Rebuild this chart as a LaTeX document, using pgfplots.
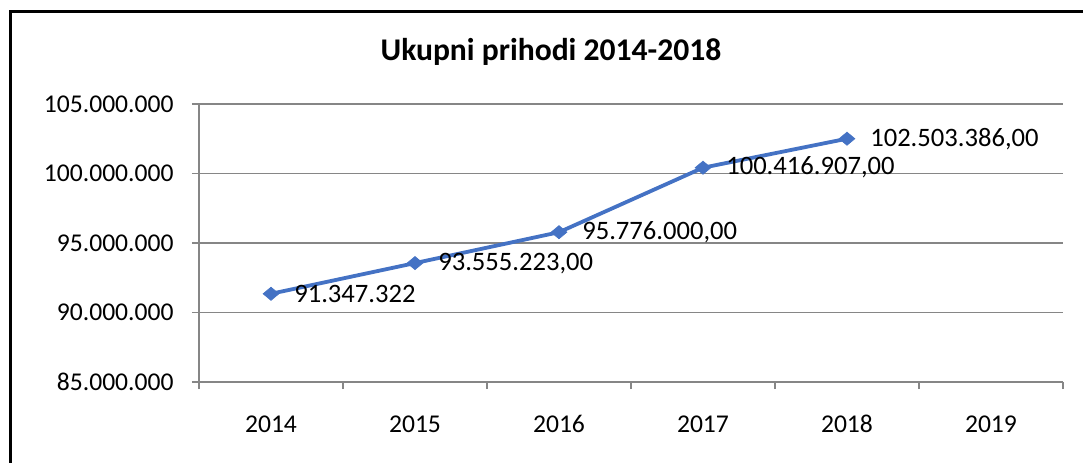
\documentclass[border=0pt]{standalone}
\usepackage{pgfplots}
\usepackage{pgfplotstable}
\pgfplotsset{compat=1.18}
\usepackage{fontspec}
\setmainfont{Carlito}
\definecolor{serie}{RGB}{68,114,196}
\definecolor{gridc}{RGB}{134,134,134}
\pgfplotstableread{
x y label
0 91347322 91.347.322
1 93555223 93.555.223,00
2 95776000 95.776.000,00
3 100416907 100.416.907,00
4 102503386 102.503.386,00
}\data
\begin{document}
\begin{tikzpicture}
\useasboundingbox (0,0) rectangle (541.5pt,231pt);
\draw[line width=1.4pt] (5.3pt,-20pt) rectangle (600pt,225.3pt);
\node[font=\fontsize{15.8}{18}\selectfont\bfseries] at (275.5pt,205pt) {Ukupni prihodi 2014-2018};
\begin{axis}[
  at={(99.5pt,40pt)}, anchor=south west,
  scale only axis, width=432pt, height=139pt,
  xmin=-0.5, xmax=5.5,
  ymin=85000000, ymax=105000000,
  axis x line*=bottom, axis y line*=left,
  axis line style={gridc, line width=0.7pt},
  xtick={-0.5,0.5,1.5,2.5,3.5,4.5,5.5},
  x tick label as interval,
  xticklabels={2014,2015,2016,2017,2018,2019},
  ytick={85000000,90000000,95000000,100000000,105000000},
  yticklabels={85.000.000,90.000.000,95.000.000,100.000.000,105.000.000},
  scaled y ticks=false,
  tick align=outside,
  major tick length=3.5pt,
  tick style={gridc, line width=0.7pt},
  ymajorgrids,
  grid style={gridc, line width=0.7pt},
  ticklabel style={font=\fontsize{12.8}{15}\selectfont},
  xticklabel style={inner sep=0pt, anchor=north, yshift=-13pt},
  yticklabel style={inner sep=0pt, anchor=east, xshift=-9pt},
  clip=false,
]
\addplot[serie, line width=1.9pt, mark=diamond*, mark size=3.3pt,
  mark options={fill=serie, draw=serie, line width=0.3pt, xscale=1.6},
  nodes near coords, point meta=explicit symbolic,
  nodes near coords style={anchor=west, inner sep=0pt, xshift=11.5pt, black,
     font=\fontsize{13.3}{15}\selectfont}]
  table[x=x, y=y, meta=label] {\data};
\end{axis}
\end{tikzpicture}
\end{document}
